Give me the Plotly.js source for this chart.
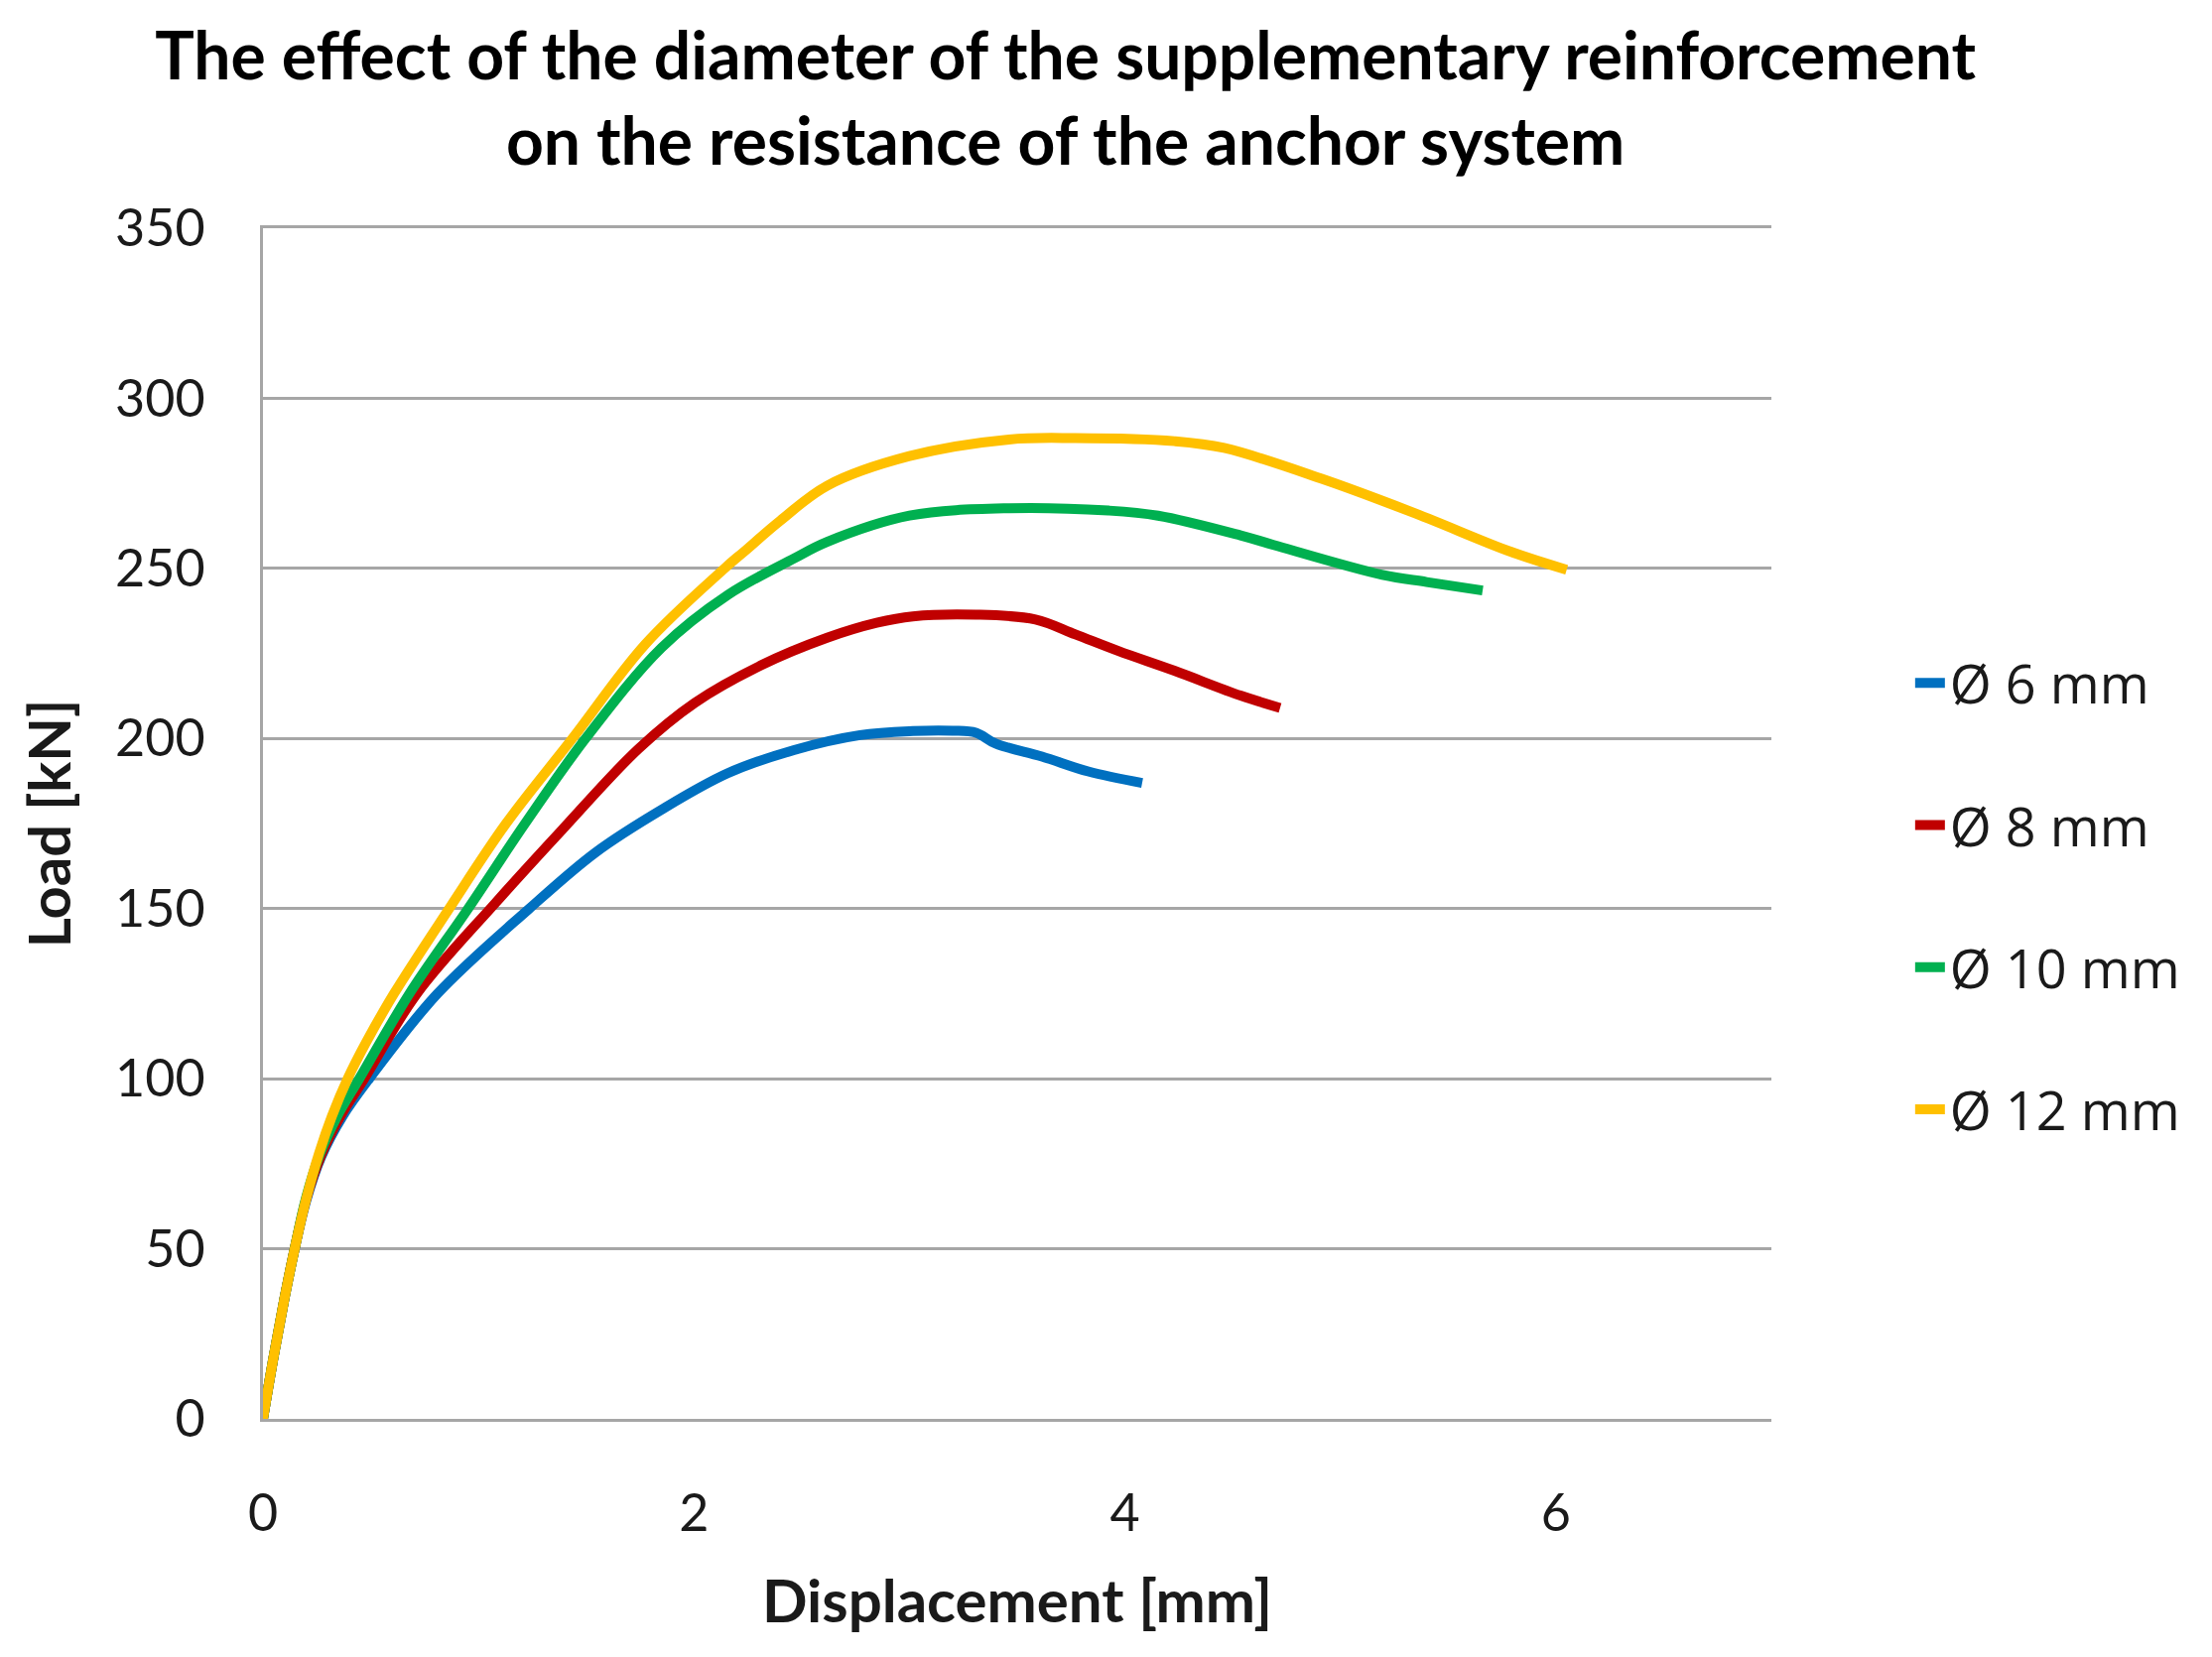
<!DOCTYPE html>
<html>
<head>
<meta charset="utf-8">
<script src="https://cdn.plot.ly/plotly-3.0.1.min.js"></script>
<style>
  html, body { margin: 0; padding: 0; background: #FFFFFF; }
  #chart { width: 2229px; height: 1670px; }
</style>
</head>
<body>
<div id="chart"></div>
<script>
// -------------------------------------------------------------------------
// Load–displacement curves
// -------------------------------------------------------------------------
const seriesNames = ["Ø 6 mm", "Ø 8 mm", "Ø 10 mm", "Ø 12 mm"];

const disp6 = [0, 0.05, 0.1, 0.147, 0.2, 0.27, 0.37, 0.493, 0.81, 1.236, 1.543, 1.85, 2.157, 2.464, 2.771, 3.016, 3.2, 3.309, 3.4, 3.615, 3.83, 4.08];
const load6 = [0, 18.5, 35.5, 50, 64, 77, 89, 100, 125, 150, 166.5, 179.1, 189.8, 196.6, 201, 202.2, 202.3, 201.7, 198.5, 194.7, 190.3, 186.9];

const disp8 = [0, 0.05, 0.1, 0.147, 0.2, 0.27, 0.36, 0.47, 0.714, 1.082, 1.39, 1.743, 2.004, 2.311, 2.618, 2.848, 3.016, 3.308, 3.585, 3.77, 3.97, 4.23, 4.537, 4.72];
const load8 = [0, 18.5, 35.5, 50, 64.5, 77.5, 89, 100, 125, 151.9, 173.3, 197, 210.5, 221.5, 229.6, 234, 235.9, 236.4, 235, 230.6, 225.7, 219.9, 212.6, 209];

const disp10 = [0, 0.05, 0.1, 0.147, 0.2, 0.265, 0.345, 0.447, 0.68, 0.952, 1.216, 1.497, 1.85, 2.157, 2.464, 2.618, 3.0, 3.462, 3.923, 4.154, 4.537, 4.69, 5.195, 5.4, 5.66];
const load10 = [0, 18.5, 35.5, 50, 65, 78, 89, 100, 125, 150, 175, 200, 226.7, 242.2, 252.9, 257.8, 265.5, 267.7, 267, 265.5, 259.7, 256.9, 248.1, 246, 243.5];

const disp12 = [0, 0.05, 0.1, 0.147, 0.2, 0.26, 0.32, 0.393, 0.477, 0.608, 0.864, 1.128, 1.436, 1.774, 2.142, 2.234, 2.4, 2.618, 3.0, 3.462, 3.77, 4.23, 4.46, 4.91, 5.35, 5.79, 6.05];
const load12 = [0, 18.5, 35.5, 50, 64.5, 78, 89, 100, 110.5, 125, 150, 175, 200, 227.7, 250, 255, 264, 274.3, 283, 287.9, 288.3, 287.4, 285.4, 276.4, 266.1, 254.9, 249.6];

const xTicks = [0, 2, 4, 6];
const yTicks = [0, 50, 100, 150, 200, 250, 300, 350];

// Excel standard colours
const SERIES_COLORS = ["#0070C0", "#C00000", "#00B050", "#FFC000"];
const GRID_COLOR = "#A6A6A6";
const TEXT_COLOR = "#1A1A1A";
const LABEL_FONT = "Lato, 'Open Sans', sans-serif";

const xs = [disp6, disp8, disp10, disp12];
const ys = [load6, load8, load10, load12];

const traces = seriesNames.map((name, i) => ({
  x: xs[i],
  y: ys[i],
  name: name,
  legendgroup: "g" + i,
  type: "scatter",
  mode: "lines",
  line: { color: SERIES_COLORS[i], width: 10, shape: "spline", smoothing: 1 },
  hoverinfo: "skip",
}));

const layout = {
  width: 2229,
  height: 1670,
  margin: { l: 265, r: 444, t: 230, b: 240 },
  paper_bgcolor: "#FFFFFF",
  plot_bgcolor: "#FFFFFF",
  font: { family: LABEL_FONT, color: TEXT_COLOR, size: 52 },
  title: {
    text: "<b>The effect of the diameter of the supplementary reinforcement<br>on the resistance of the anchor system</b>",
    font: { family: LABEL_FONT, size: 66, color: "#000000" },
    xref: "paper",
    x: 0.532,
    xanchor: "center",
    yref: "container",
    y: 0.952,
    yanchor: "middle",
  },
  xaxis: {
    range: [0, 7],
    tickvals: xTicks,
    showgrid: false,
    zeroline: false,
    showline: true,
    mirror: true,
    linecolor: GRID_COLOR,
    linewidth: 3,
    ticks: "",
    ticklabelstandoff: 48,
    tickfont: { size: 52 },
    title: { text: "<b>Displacement [mm]</b>", font: { size: 60 }, standoff: 40 },
  },
  yaxis: {
    range: [0, 350],
    tickvals: yTicks,
    showgrid: true,
    gridcolor: GRID_COLOR,
    gridwidth: 3,
    zeroline: false,
    showline: true,
    linecolor: GRID_COLOR,
    linewidth: 3,
    ticks: "",
    ticklabelstandoff: 45,
    tickfont: { size: 52 },
    title: { text: "<b>Load [kN]</b>", font: { size: 58 }, standoff: 26 },
  },
  showlegend: true,
  legend: {
    x: 1.092,
    xanchor: "left",
    y: 0.439,
    yanchor: "middle",
    font: { family: "'Open Sans', sans-serif", size: 54, color: TEXT_COLOR },
    tracegroupgap: 70,
    bgcolor: "rgba(0,0,0,0)",
  },
};

Plotly.newPlot("chart", traces, layout, { staticPlot: true, displayModeBar: false });
</script>
</body>
</html>
